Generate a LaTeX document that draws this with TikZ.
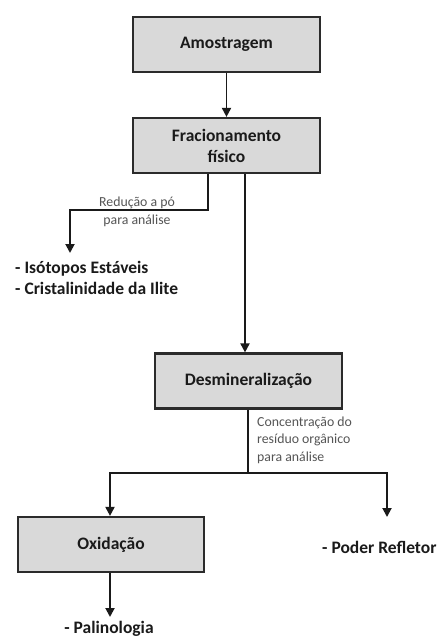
\documentclass[tikz,border=0pt]{standalone}
\usepackage{fontspec}
\setmainfont{Carlito}
\usetikzlibrary{arrows.meta,calc}
\definecolor{boxfill}{HTML}{D9D9D9}
\definecolor{boxline}{HTML}{2B2B2B}
\definecolor{txt}{HTML}{1A1A1A}
\definecolor{lbl}{HTML}{555555}
\begin{document}
\begin{tikzpicture}[x=1pt,y=-1pt,
  stepbox/.style={draw=boxline,fill=boxfill,line width=2.2pt,minimum width=187pt,minimum height=55pt,
    align=center,font=\fontsize{17.5}{21}\selectfont\bfseries,text=txt,inner sep=0pt},
  outtext/.style={font=\fontsize{17.5}{21}\selectfont\bfseries,text=txt,align=left,inner sep=0pt},
  lbltext/.style={font=\fontsize{13.8}{17.5}\selectfont,text=lbl,inner sep=0pt},
  conn/.style={draw=txt,line width=1.9pt},
  arr/.style={conn,-{Triangle[width=9pt,length=9pt]}}]
\useasboundingbox[fill=white] (0,0) rectangle (439,637);
% boxes
\node[stepbox] (amo) at (226.5,44.5) {Amostragem};
\node[stepbox] (fra) at (226.5,145.5) {Fracionamento\\físico};
\node[stepbox] (des) at (248.5,381) {Desmineralização};
\node[stepbox,minimum width=186pt] (oxi) at (111,544.5) {Oxidação};
% outputs
\node[outtext,anchor=north west] (iso) at (15,261) {- Isótopos Estáveis\\- Cristalinidade da Ilite};
\node[outtext,anchor=west] (pod) at (322,547) {- Poder Refletor};
\node[outtext,anchor=north] (pal) at (109,621) {- Palinologia};
% labels
\node[lbltext,align=center] (l1) at (137,212) {Redução a pó\\para análise};
\node[lbltext,align=left,anchor=west] (l2) at (257,440) {Concentração do\\resíduo orgânico\\para análise};
% coordinates
\coordinate (b1) at (208,210);
\coordinate (b1l) at (70,210);
\coordinate (isoend) at (70,253);
\coordinate (d2) at (248,473);
\coordinate (d2l) at (110,473);
\coordinate (d2r) at (387,473);
\coordinate (podend) at (387,517);
% connectors
\draw[arr] (amo.south) -- (fra.north);
\draw[arr] (fra.south -| 245,0) -- (des.north -| 245,0);
\draw[arr] (fra.south -| b1) -- (b1) -- (b1l) -- (isoend);
\draw[conn] (des.south -| d2) -- (d2);
\draw[arr] (d2l) -- (d2r) -- (podend);
\draw[arr] (d2) -- (d2l) -- (oxi.north -| d2l);
\draw[arr] (oxi.south -| d2l) -- ($(pal.north -| d2l)+(0,-4)$);
\end{tikzpicture}
\end{document}
